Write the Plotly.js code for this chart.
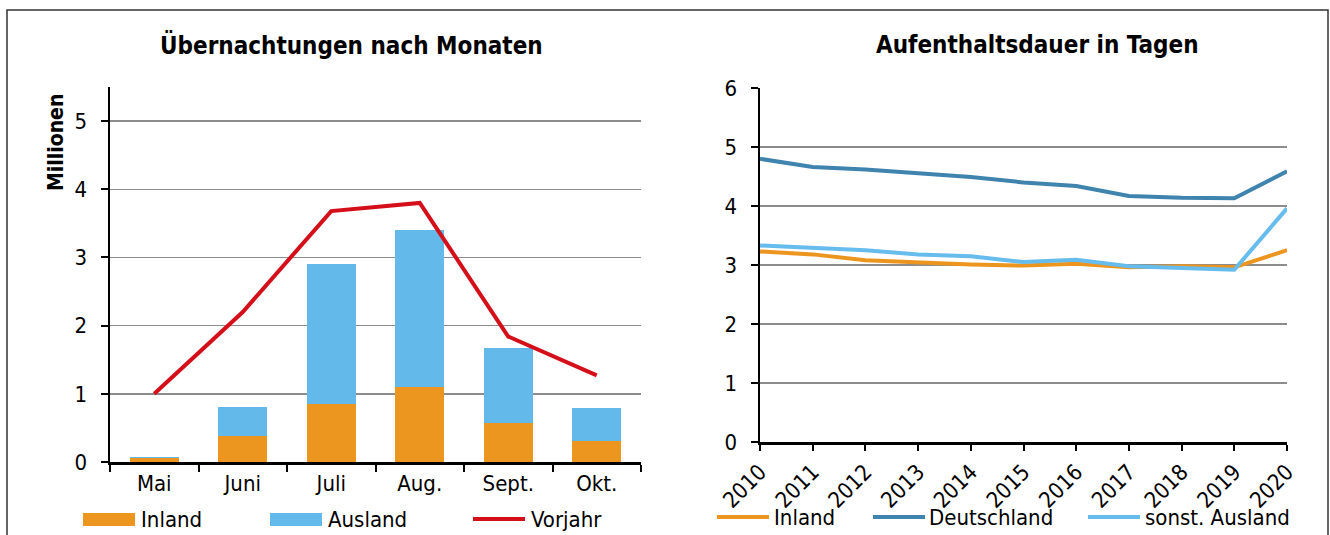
<!DOCTYPE html>
<html><head><meta charset="utf-8">
<script src="https://cdn.plot.ly/plotly-3.0.1.min.js"></script>
<style>html,body{margin:0;padding:0;background:#fff;}#chart{width:1330px;height:535px;}</style>
</head><body><div id="chart"></div>
<script>
// Left chart: Übernachtungen nach Monaten (Millionen)
const months = ["Mai", "Juni", "Juli", "Aug.", "Sept.", "Okt."];
const nightsInland = [0.06, 0.38, 0.85, 1.10, 0.57, 0.31];
const nightsAusland = [0.02, 0.42, 2.05, 2.30, 1.10, 0.48];
const nightsVorjahr = [1.00, 2.20, 3.68, 3.80, 1.84, 1.27];

// Right chart: Aufenthaltsdauer in Tagen
const years = [2010, 2011, 2012, 2013, 2014, 2015, 2016, 2017, 2018, 2019, 2020];
const stayInland = [3.23, 3.18, 3.08, 3.04, 3.01, 2.99, 3.02, 2.96, 2.98, 2.96, 3.25];
const stayDeutschland = [4.80, 4.66, 4.62, 4.55, 4.49, 4.40, 4.34, 4.17, 4.14, 4.13, 4.59];
const staySonstAusland = [3.33, 3.29, 3.25, 3.18, 3.15, 3.05, 3.09, 2.98, 2.95, 2.92, 3.96];

const C_OR = "#EC951F", C_LB = "#63B9E9", C_RED = "#D50F1A", C_DE = "#3F83AF", C_LBL = "#66BCEC";
const FONT = "DejaVu Sans Condensed, DejaVu Sans, sans-serif";
const W = 1330, H = 535;
const px = x => x / W, py = y => 1 - y / H;

const traces = [
  {type: "bar", x: months, y: nightsInland, marker: {color: C_OR}, xaxis: "x", yaxis: "y", name: "Inland", hoverinfo: "none"},
  {type: "bar", x: months, y: nightsAusland, marker: {color: C_LB}, xaxis: "x", yaxis: "y", name: "Ausland", hoverinfo: "none"},
  {type: "scatter", mode: "lines", x: months, y: nightsVorjahr, line: {color: C_RED, width: 4}, xaxis: "x", yaxis: "y", name: "Vorjahr", hoverinfo: "none"},
  {type: "scatter", mode: "lines", x: years, y: stayInland, line: {color: C_OR, width: 4}, xaxis: "x2", yaxis: "y2", name: "Inland", hoverinfo: "none"},
  {type: "scatter", mode: "lines", x: years, y: stayDeutschland, line: {color: C_DE, width: 4}, xaxis: "x2", yaxis: "y2", name: "Deutschland", hoverinfo: "none"},
  {type: "scatter", mode: "lines", x: years, y: staySonstAusland, line: {color: C_LBL, width: 4}, xaxis: "x2", yaxis: "y2", name: "sonst. Ausland", hoverinfo: "none"}
];

const tickFont = {family: FONT, size: 22, color: "#000"};
const LEG = 22;
const layout = {
  width: W, height: H,
  margin: {l: 0, r: 0, t: 0, b: 0},
  paper_bgcolor: "#fff", plot_bgcolor: "rgba(0,0,0,0)",
  showlegend: false,
  barmode: "stack", bargap: 0.45,
  font: {family: FONT, color: "#000"},
  xaxis: {
    domain: [px(110), px(641)], anchor: "y", type: "category",
    showline: true, linecolor: "#000", linewidth: 2.5,
    ticks: "outside", tickson: "boundaries", ticklen: 7, tickwidth: 2, tickcolor: "#000",
    showgrid: false, zeroline: false, tickfont: tickFont
  },
  yaxis: {
    domain: [py(462), py(87)], anchor: "x", range: [0, 5.5],
    tickvals: [0, 1, 2, 3, 4, 5],
    showline: true, linecolor: "#000", linewidth: 2.5,
    ticks: "outside", ticklen: 7, tickwidth: 2, tickcolor: "#000", ticklabelstandoff: 9,
    showgrid: true, gridcolor: "#8c8c8c", gridwidth: 1.5, zeroline: false, tickfont: tickFont
  },
  xaxis2: {
    domain: [px(760), px(1287)], anchor: "y2", range: [2010, 2020],
    tickvals: years, tickangle: -45,
    showline: true, linecolor: "#000", linewidth: 2.5,
    ticks: "outside", ticklen: 6, tickwidth: 2, tickcolor: "#000",
    showgrid: false, zeroline: false, tickfont: tickFont
  },
  yaxis2: {
    domain: [py(442), py(88)], anchor: "x2", range: [0, 6],
    tickvals: [0, 1, 2, 3, 4, 5, 6],
    showline: true, linecolor: "#000", linewidth: 2.5,
    ticks: "outside", ticklen: 7, tickwidth: 2, tickcolor: "#000", ticklabelstandoff: 9,
    showgrid: true, gridcolor: "#8c8c8c", gridwidth: 1.5, zeroline: false, tickfont: tickFont
  },
  annotations: [
    {text: "<b>Übernachtungen nach Monaten</b>", xref: "paper", yref: "paper", x: px(352), y: py(45), xanchor: "center", yanchor: "middle", showarrow: false, font: {family: FONT, size: 24, color: "#000"}},
    {text: "<b>Aufenthaltsdauer in Tagen</b>", xref: "paper", yref: "paper", x: px(1037), y: py(45), xanchor: "center", yanchor: "middle", showarrow: false, font: {family: FONT, size: 24, color: "#000"}},
    {text: "<b>Millionen</b>", xref: "paper", yref: "paper", x: px(56), y: py(143), xanchor: "center", yanchor: "middle", textangle: -90, showarrow: false, font: {family: FONT, size: 21, color: "#000"}},
    {text: "Inland", xref: "paper", yref: "paper", x: px(139), y: py(519), xanchor: "left", yanchor: "middle", showarrow: false, font: {family: FONT, size: LEG, color: "#000"}},
    {text: "Ausland", xref: "paper", yref: "paper", x: px(326), y: py(519), xanchor: "left", yanchor: "middle", showarrow: false, font: {family: FONT, size: LEG, color: "#000"}},
    {text: "Vorjahr", xref: "paper", yref: "paper", x: px(529), y: py(519), xanchor: "left", yanchor: "middle", showarrow: false, font: {family: FONT, size: LEG, color: "#000"}},
    {text: "Inland", xref: "paper", yref: "paper", x: px(772), y: py(517), xanchor: "left", yanchor: "middle", showarrow: false, font: {family: FONT, size: LEG, color: "#000"}},
    {text: "Deutschland", xref: "paper", yref: "paper", x: px(927), y: py(517), xanchor: "left", yanchor: "middle", showarrow: false, font: {family: FONT, size: LEG, color: "#000"}},
    {text: "sonst. Ausland", xref: "paper", yref: "paper", x: px(1143), y: py(517), xanchor: "left", yanchor: "middle", showarrow: false, font: {family: FONT, size: LEG, color: "#000"}}
  ],
  shapes: [
    // outer frame
    {type: "rect", xref: "paper", yref: "paper", x0: px(7), x1: px(1328), y0: py(545), y1: py(10), line: {color: "#333", width: 1.5}, fillcolor: "rgba(0,0,0,0)"},
    // left legend swatches
    {type: "rect", xref: "paper", yref: "paper", x0: px(83), x1: px(135), y0: py(526), y1: py(513), line: {width: 0}, fillcolor: C_OR},
    {type: "rect", xref: "paper", yref: "paper", x0: px(270), x1: px(322), y0: py(526), y1: py(513), line: {width: 0}, fillcolor: C_LB},
    {type: "line", xref: "paper", yref: "paper", x0: px(473), x1: px(525), y0: py(519), y1: py(519), line: {color: C_RED, width: 4}},
    // right legend lines
    {type: "line", xref: "paper", yref: "paper", x0: px(717), x1: px(769), y0: py(517), y1: py(517), line: {color: C_OR, width: 4}},
    {type: "line", xref: "paper", yref: "paper", x0: px(873), x1: px(925), y0: py(517), y1: py(517), line: {color: C_DE, width: 4}},
    {type: "line", xref: "paper", yref: "paper", x0: px(1088), x1: px(1140), y0: py(517), y1: py(517), line: {color: C_LBL, width: 4}}
  ]
};

Plotly.newPlot("chart", traces, layout, {staticPlot: true, displayModeBar: false});
</script>
</body></html>
